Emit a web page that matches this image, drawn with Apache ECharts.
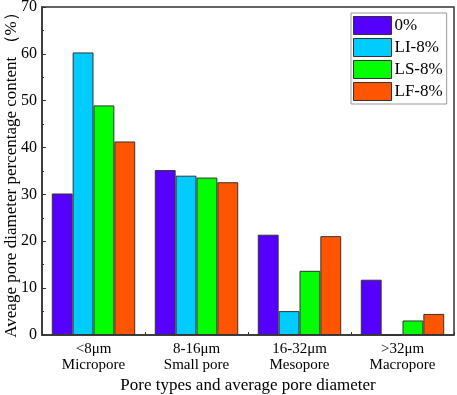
<!DOCTYPE html>
<html>
<head>
<meta charset="utf-8">
<script src="https://cdn.jsdelivr.net/npm/echarts@6/dist/echarts.min.js"></script>
<style>
  html, body { margin: 0; padding: 0; background: #fff; }
  #chart { width: 457px; height: 395px; }
</style>
</head>
<body>
<div id="chart"></div>
<script>
const categories = ['<8μm\nMicropore', '8-16μm\nSmall pore', '16-32μm\nMesopore', '>32μm\nMacropore'];
const seriesNames = ['0%', 'LI-8%', 'LS-8%', 'LF-8%'];
const values0 = [30.2, 35.2, 21.4, 11.8];
const valuesLI = [60.3, 34.0, 5.1, 0];
const valuesLS = [49.0, 33.6, 13.7, 3.1];
const valuesLF = [41.3, 32.6, 21.1, 4.5];
const colors = ['#5500ff', '#00ccff', '#00ff00', '#ff5500'];
const yTicks = { min: 0, max: 70, interval: 10 };

const font = 'Liberation Serif';
const chart = echarts.init(document.getElementById('chart'));

const allValues = [values0, valuesLI, valuesLS, valuesLF];

const option = {
  animation: false,
  textStyle: { fontFamily: font },
  grid: {
    left: 42, right: 3, top: 7, bottom: 60,
    outerBoundsMode: 'none',
    containLabel: false,
    show: true, borderColor: '#333', borderWidth: 1.5, backgroundColor: 'transparent'
  },
  legend: {
    orient: 'vertical',
    left: 351, top: 13,
    icon: 'rect',
    itemWidth: 38, itemHeight: 18, itemGap: 3,
    padding: [3, 4, 3, 2],
    borderColor: '#999', borderWidth: 1,
    textStyle: { fontFamily: font, fontSize: 17, color: '#000', padding: [0, 0, 0, -2] },
    itemStyle: { borderColor: '#333', borderWidth: 1 },
    data: seriesNames
  },
  xAxis: {
    type: 'category',
    data: categories,
    name: 'Pore types and average pore diameter',
    nameLocation: 'middle',
    nameGap: 42,
    nameMoveOverlap: false,
    nameTextStyle: { fontFamily: font, fontSize: 17, color: '#000', verticalAlign: 'top' },
    axisLine: { lineStyle: { color: '#333', width: 1.5 } },
    axisTick: { show: true, inside: true, length: 3, lineStyle: { color: '#333' } },
    axisLabel: { fontFamily: font, fontSize: 15, color: '#000', lineHeight: 16, margin: 6 }
  },
  yAxis: {
    type: 'value',
    min: yTicks.min, max: yTicks.max, interval: yTicks.interval,
    name: 'Aveage pore diameter percentage content （%）',
    nameLocation: 'middle',
    nameGap: 30,
    nameMoveOverlap: false,
    nameTextStyle: { fontFamily: font, fontSize: 17, color: '#000', verticalAlign: 'middle' },
    axisLine: { show: true, lineStyle: { color: '#333', width: 1.5 } },
    axisTick: { show: true, inside: true, length: 4, lineStyle: { color: '#333' } },
    minorTick: { show: true, splitNumber: 2, length: 2, lineStyle: { color: '#333' } },
    splitLine: { show: false },
    axisLabel: { fontFamily: font, fontSize: 16, color: '#000', margin: 5 }
  },
  series: seriesNames.map((name, i) => ({
    name: name,
    type: 'bar',
    data: allValues[i],
    barGap: '0%',
    barCategoryGap: '19%',
    itemStyle: { color: colors[i], borderColor: '#333', borderWidth: 1 }
  }))
};

chart.setOption(option);
</script>
</body>
</html>
